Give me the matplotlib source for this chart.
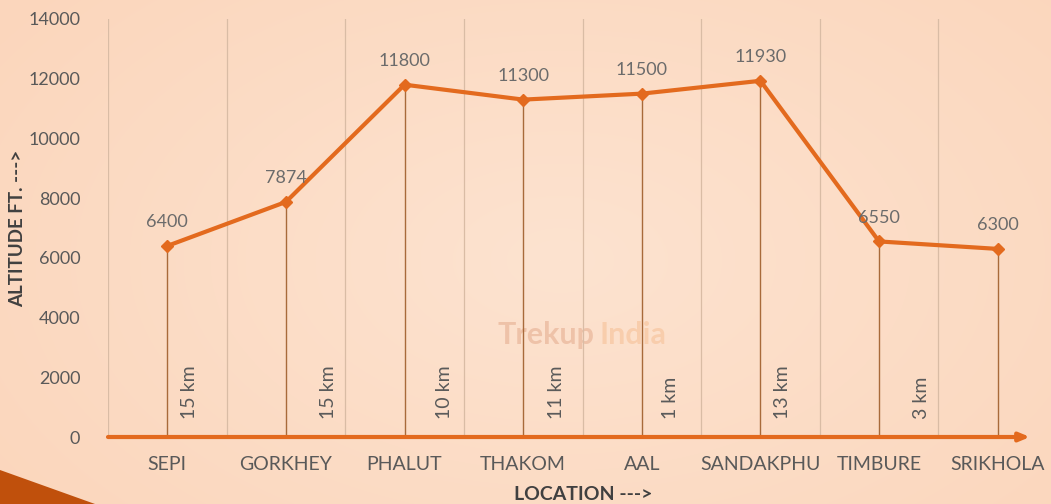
import matplotlib
matplotlib.use("Agg")
import matplotlib.pyplot as plt
import numpy as np
from matplotlib.patches import Polygon

# ---- data ----
locations = ["SEPI", "GORKHEY", "PHALUT", "THAKOM", "AAL", "SANDAKPHU", "TIMBURE", "SRIKHOLA"]
altitudes = [6400, 7874, 11800, 11300, 11500, 11930, 6550, 6300]
distances = ["15 km", "15 km", "10 km", "11 km", "1 km", "13 km", "3 km"]
# layout: horizontal offset of each distance label from its drop line (category units)
dist_offsets = [0.19, 0.36, 0.34, 0.28, 0.24, 0.19, 0.36]
yticks = list(range(0, 14001, 2000))

plt.rcParams['font.family'] = ['Lato', 'DejaVu Sans']

W, H = 1051, 504
fig = plt.figure(figsize=(W / 100, H / 100), dpi=100)

# background radial gradient
bg = fig.add_axes([0, 0, 1, 1], zorder=-10)
yy, xx = np.mgrid[0:H, 0:W]
r = np.sqrt(((xx - 560) / 700.0) ** 2 + ((yy - 260) / 420.0) ** 2)
r = np.clip(r, 0, 1)
c_in = np.array([253, 227, 208]) / 255.0
c_out = np.array([251, 214, 188]) / 255.0
img = c_in[None, None, :] * (1 - r[..., None]) + c_out[None, None, :] * r[..., None]
bg.imshow(img, extent=[0, W, H, 0], aspect='auto')
bg.add_patch(Polygon([[0, 470], [95, 504], [0, 504]], closed=True, color='#C0500C', lw=0))
bg.text(595, 335, "Trekup", fontsize=22, fontweight='bold', color='#EDBFA5',
        ha='right', va='center', alpha=0.9)
bg.text(600, 335, "India", fontsize=22, fontweight='bold', color='#F8CBA9',
        ha='left', va='center', alpha=0.9)
bg.set_xlim(0, W)
bg.set_ylim(H, 0)
bg.axis('off')

# main axes
left_px, right_px, top_px, base_px = 108, 1057, 19, 437
ax = fig.add_axes([left_px / W, (H - base_px) / H, (right_px - left_px) / W, (base_px - top_px) / H])
ax.set_facecolor('none')
x = np.arange(len(locations))
ax.set_xlim(-0.5, len(locations) - 0.5)
ax.set_ylim(0, 14000)

# vertical gridlines between categories
for gx in np.arange(-0.5, len(locations), 1.0):
    ax.axvline(gx, color='#D9BCA5', lw=0.9, zorder=1)

# drop lines
ax.vlines(x, 0, altitudes, color='#A86A3A', lw=1.0, zorder=2)

# main line
ax.plot(x, altitudes, color='#E36A1E', lw=3, marker='D', markersize=6.5,
        markerfacecolor='#E36A1E', markeredgecolor='#E36A1E', zorder=4)

# data labels
for xi, a in zip(x, altitudes):
    ax.annotate(f"{a}", (xi, a), xytext=(0, 17), textcoords='offset points',
                ha='center', va='center', fontsize=13, color='#6B6B6B', zorder=5)

# distance labels
for i, (d, off) in enumerate(zip(distances, dist_offsets)):
    ax.text(x[i] + off, 600, d, rotation=90, ha='center', va='bottom',
            fontsize=14, color='#5A5A5A', zorder=5)

# baseline arrow
ax.annotate("", xy=(0.9715, 0), xytext=(0, 0),
            xycoords=('axes fraction', 'data'), textcoords=('axes fraction', 'data'),
            arrowprops=dict(arrowstyle='-|>,head_length=0.6,head_width=0.25',
                            color='#E36A1E', lw=3, shrinkA=0, shrinkB=0),
            annotation_clip=False, zorder=6)

ax.set_yticks(yticks)
ax.set_yticklabels([str(t) for t in yticks])
ax.set_xticks(x)
ax.set_xticklabels(locations)
ax.tick_params(axis='y', length=0, pad=20, labelsize=13, labelcolor='#595959')
ax.tick_params(axis='x', length=0, pad=14, labelsize=14, labelcolor='#595959')
for s in ax.spines.values():
    s.set_visible(False)

fig.text(18 / W, 1 - 228 / H, "ALTITUDE FT. --->", rotation=90, ha='center', va='center',
         fontsize=13.5, fontweight='bold', color='#404040')
fig.text(583 / W, 1 - 494 / H, "LOCATION --->", ha='center', va='center',
         fontsize=14, fontweight='bold', color='#404040')

fig.savefig("out.png", dpi=100)
